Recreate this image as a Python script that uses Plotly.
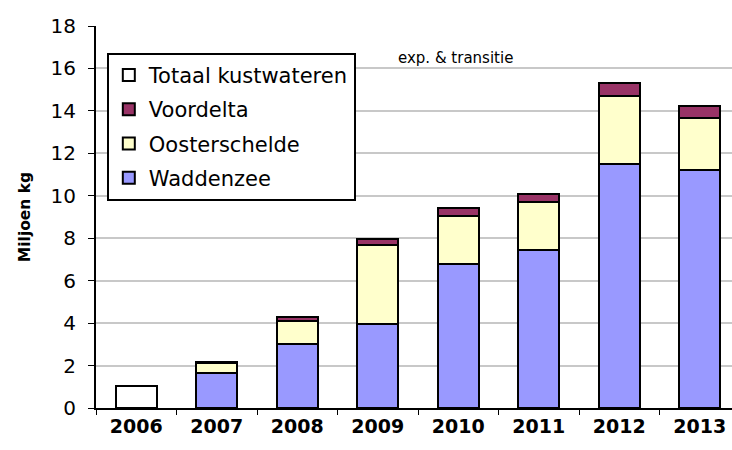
import plotly.graph_objects as go

years = ["2006", "2007", "2008", "2009", "2010", "2011", "2012", "2013"]
totaal = [1.05, None, None, None, None, None, None, None]
waddenzee = [None, 1.65, 3.0, 3.98, 6.78, 7.45, 11.5, 11.2]
oosterschelde = [None, 0.45, 1.1, 3.72, 2.28, 2.27, 3.22, 2.45]
voordelta = [None, 0.07, 0.2, 0.26, 0.35, 0.37, 0.6, 0.6]
yticks = [0, 2, 4, 6, 8, 10, 12, 14, 16, 18]

FONT = "DejaVu Sans"
line = dict(color="black", width=2)
fig = go.Figure()
fig.add_trace(go.Bar(x=years, y=waddenzee, name="Waddenzee", legendgroup="w", legendrank=4,
                     marker=dict(color="#9999FF", line=line)))
fig.add_trace(go.Bar(x=years, y=oosterschelde, name="Oosterschelde", legendgroup="o", legendrank=3,
                     marker=dict(color="#FFFFCC", line=line)))
fig.add_trace(go.Bar(x=years, y=voordelta, name="Voordelta", legendgroup="v", legendrank=2,
                     marker=dict(color="#993366", line=line)))
fig.add_trace(go.Bar(x=years, y=totaal, name="Totaal kustwateren", legendgroup="t", legendrank=1,
                     marker=dict(color="white", line=line)))

fig.update_layout(
    width=732, height=450,
    barmode="stack", bargap=0.49,
    plot_bgcolor="white", paper_bgcolor="white",
    margin=dict(l=96, r=0, t=26, b=42, autoexpand=False),
    font=dict(family=FONT, color="black"),
    showlegend=True,
    legend=dict(x=0.017, y=0.93, xanchor="left", yanchor="top",
                traceorder="grouped", bordercolor="black", borderwidth=2,
                bgcolor="white", font=dict(size=21), tracegroupgap=4,
                itemwidth=30),
    annotations=[dict(text="exp. & transitie", x=(455 - 96) / 636, y=(408 - 58) / 382,
                      xref="paper", yref="paper",
                      showarrow=False, font=dict(size=15), xanchor="center", yanchor="middle")],
)
fig.update_xaxes(range=[-0.5, 7.4], showline=True, linecolor="black", linewidth=2,
                 ticks="outside", tickson="boundaries", ticklen=5, tickcolor="black",
                 tickfont=dict(size=19, family=FONT),
                 tickprefix="<b>", ticksuffix="</b>", showgrid=False)
fig.update_yaxes(range=[0, 18], tickvals=yticks, showline=True, linecolor="black", linewidth=2,
                 ticks="outside", ticklen=6, tickcolor="black", ticklabelstandoff=8,
                 tickfont=dict(size=20), showgrid=True, gridcolor="#C8C8C8", gridwidth=1.5,
                 zeroline=False,
                 title=dict(text="<b>Miljoen kg</b>", font=dict(size=15.5), standoff=16))

fig.write_html("out.html", config={"displayModeBar": False})
with open("out.html", encoding="utf-8") as f:
    html = f.read()
html = html.replace("<body>", '<body style="margin:0;padding:0;">', 1)
with open("out.html", "w", encoding="utf-8") as f:
    f.write(html)
